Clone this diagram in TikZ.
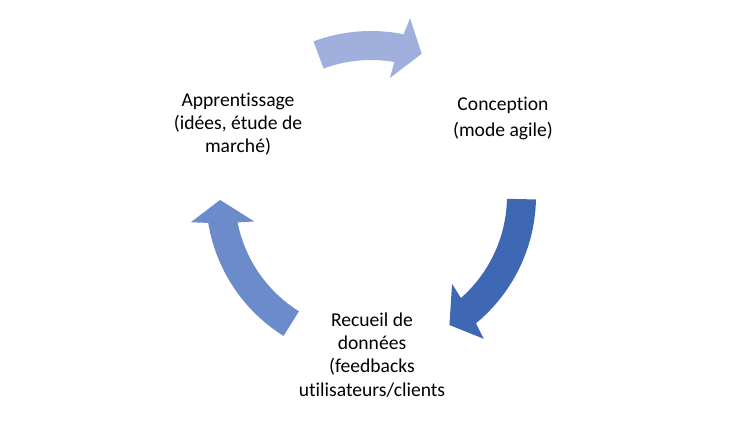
\documentclass[tikz,border=0pt]{standalone}
\usepackage{fontspec}
\setmainfont{Carlito}[Ligatures=NoCommon]
\usetikzlibrary{calc}
\definecolor{arrowTop}{HTML}{A0AFDB}
\definecolor{arrowRight}{HTML}{3F68B4}
\definecolor{arrowLeft}{HTML}{6C8BCB}
\tikzset{
  steptext/.style={align=center, font=\fontsize{19.6pt}{23.2pt}\selectfont, text=black, inner sep=0pt},
}
% color, tail angle, outer notch, outer corner, tip, inner corner, inner notch
\newcommand{\cycarrow}[7]{%
  \fill[#1] ($(C)+(#2:165pt)$) arc[start angle=#2, end angle=#3, radius=165pt]
    -- ($(C)+(#4:182pt)$) -- ($(C)+(#5:151pt)$) -- ($(C)+(#6:119.5pt)$)
    -- ($(C)+(#7:136pt)$) arc[start angle=#7, end angle=#2, radius=136pt] -- cycle;}
\begin{document}
\begin{tikzpicture}
\useasboundingbox (0,0) rectangle (755pt,427pt);
\coordinate (C) at (371pt,231pt);
\cycarrow{arrowTop}{110.4}{78.6}{77.6}{70.4}{80.9}{80.1}
\cycarrow{arrowRight}{-1.2}{-50.5}{-51.7}{-58.7}{-47.3}{-48.6}
\cycarrow{arrowLeft}{238}{189.4}{188.3}{181.5}{192.3}{191.2}
\node[steptext] (appr) at (238pt,303pt) {Apprentissage\\(idées, étude de\\marché)};
\node[steptext] (conc) at (503pt,308.5pt) {Conception\\[2pt](mode agile)};
\node[steptext] (recu) at (372pt,72pt) {Recueil de\\données\\(feedbacks\\utilisateurs/clients};
\end{tikzpicture}
\end{document}
